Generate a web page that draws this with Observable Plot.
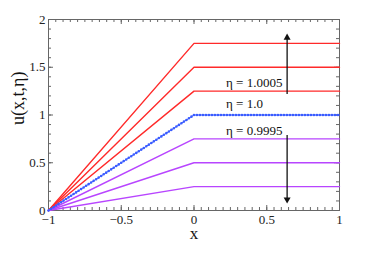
<!DOCTYPE html>
<html>
<head>
<meta charset="utf-8">
<script src="https://cdn.jsdelivr.net/npm/d3@7"></script>
<script src="https://cdn.jsdelivr.net/npm/@observablehq/plot@0.6"></script>
<style>
  html, body { margin: 0; padding: 0; background: #fff; }
  svg text { font-family: "Liberation Serif", "Times New Roman", serif !important; }
</style>
</head>
<body>
<div id="chart"></div>
<script>
// ---- data ----
const xKnots = [-1, 0, 1];
const redSeries = [[0, 1.75, 1.75], [0, 1.5, 1.5], [0, 1.25, 1.25]];
const blueSeries = [0, 1.0, 1.0];
const purpleSeries = [[0, 0.75, 0.75], [0, 0.5, 0.5], [0, 0.25, 0.25]];

const xMajorTicks = [-1, -0.5, 0, 0.5, 1];
const yMajorTicks = [0, 0.5, 1, 1.5, 2];

const labelTexts = ["η = 1.0005", "η = 1.0", "η = 0.9995"];
const labelX = [0.22, 0.22, 0.22];
const labelY = [1.335, 1.12, 0.83];

const arrowX = [0.64, 0.64];
const arrowFrom = [1.22, 0.79];
const arrowTo = [1.81, 0.115];
const arrowRotate = [0, 180];

// ---- build tables ----
const rows = [];
redSeries.forEach((ys, i) => ys.forEach((y, j) => rows.push({x: xKnots[j], y, s: "r" + i, g: "red"})));
purpleSeries.forEach((ys, i) => ys.forEach((y, j) => rows.push({x: xKnots[j], y, s: "p" + i, g: "purple"})));
const blueRows = blueSeries.map((y, j) => ({x: xKnots[j], y}));
const labels = labelTexts.map((t, i) => ({t, x: labelX[i], y: labelY[i]}));
const arrows = arrowX.map((x, i) => ({x, y1: arrowFrom[i], y2: arrowTo[i], r: arrowRotate[i]}));

const W = 374, H = 255;
const mL = 48, mR = 35, mT = 19, mB = 45;
const innerW = W - mL - mR, innerH = H - mT - mB;
const xMinor = d3.range(-1, 1.0001, 0.05);
const yMinor = d3.range(0, 2.0001, 0.1);
const axisColor = "#666";
const serif = "'Liberation Serif', serif";
const fmt = d => (d < 0 ? "\u2212" + String(-d) : String(d));

const chart = Plot.plot({
  width: W, height: H,
  marginLeft: mL, marginRight: mR, marginTop: mT, marginBottom: mB,
  x: {domain: [-1, 1]},
  y: {domain: [0, 2]},
  style: {fontFamily: serif, fontSize: "13px", color: "#222", background: "#fff"},
  marks: [
    Plot.tickX(xMinor, {x: d => d, insetTop: innerH - 3, stroke: axisColor}),
    Plot.tickX(xMinor, {x: d => d, insetBottom: innerH - 3, stroke: axisColor}),
    Plot.tickX(xMajorTicks, {x: d => d, insetTop: innerH - 5, stroke: axisColor}),
    Plot.tickX(xMajorTicks, {x: d => d, insetBottom: innerH - 5, stroke: axisColor}),
    Plot.tickY(yMinor, {y: d => d, insetRight: innerW - 3, stroke: axisColor}),
    Plot.tickY(yMinor, {y: d => d, insetLeft: innerW - 3, stroke: axisColor}),
    Plot.tickY(yMajorTicks, {y: d => d, insetRight: innerW - 5, stroke: axisColor}),
    Plot.tickY(yMajorTicks, {y: d => d, insetLeft: innerW - 5, stroke: axisColor}),
    Plot.axisX({ticks: xMajorTicks, tickSize: 0, tickPadding: 4, fontSize: 13, label: null, tickFormat: fmt, fontFamily: serif, fill: "#222"}),
    Plot.axisY({ticks: yMajorTicks, tickSize: 0, tickPadding: 3, fontSize: 13, label: null, tickFormat: fmt, fontFamily: serif, fill: "#222"}),
    Plot.frame({stroke: axisColor, strokeWidth: 1}),
    Plot.line(rows, {x: "x", y: "y", z: "s", stroke: d => d.g === "red" ? "#ff2a2a" : "#b845ff", strokeWidth: 1.4}),
    Plot.line(blueRows, {x: "x", y: "y", stroke: "#3a5cff", strokeWidth: 1}),
    Plot.line(blueRows, {x: "x", y: "y", stroke: "#3a5cff", strokeWidth: 2.6, strokeDasharray: "0,3", strokeLinecap: "round"}),
    Plot.text(labels, {x: "x", y: "y", text: "t", textAnchor: "start", fontSize: 13, fill: "#111", fontFamily: serif}),
    Plot.link(arrows, {x1: "x", x2: "x", y1: "y1", y2: "y2", stroke: "#111", strokeWidth: 1.3}),
    Plot.dot(arrows, {x: "x", y: "y2", symbol: "triangle", r: 2.6, fill: "#111", stroke: "none", rotate: "r"}),
    Plot.text(["x"], {frameAnchor: "bottom", dy: 28, text: d => d, fontSize: 17, fill: "#111", fontFamily: serif}),
    Plot.text(["u(x,t,η)"], {frameAnchor: "left", dx: -30, dy: 10, rotate: -90, text: d => d, fontSize: 18, fill: "#111", fontFamily: serif})
  ]
});
document.getElementById("chart").appendChild(chart);
</script>
</body>
</html>
